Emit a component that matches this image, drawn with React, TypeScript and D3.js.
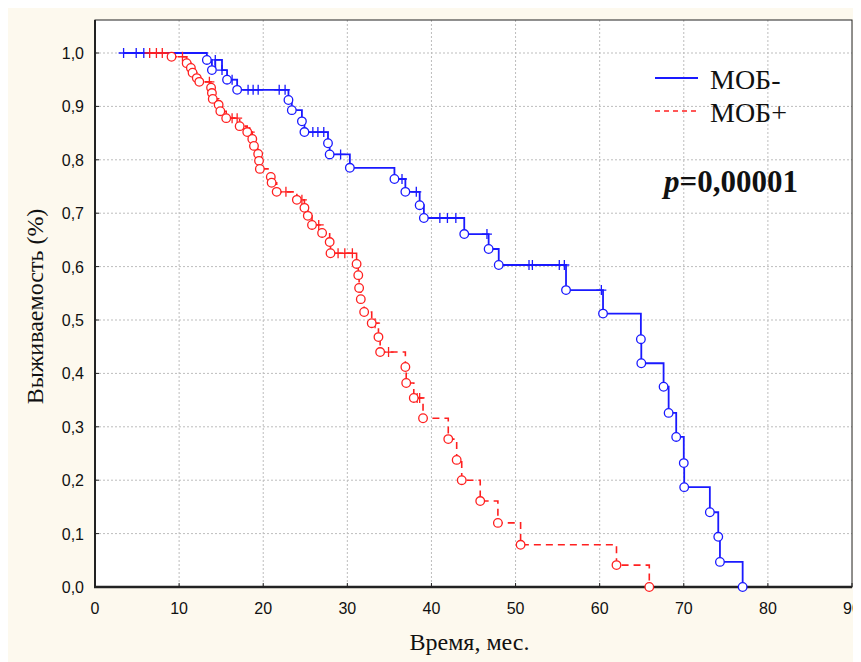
import React from "react";
import * as d3 from "d3";

// ---------- data ----------
const xTicks = [0, 10, 20, 30, 40, 50, 60, 70, 80, 90];
const xTickLabels = ["0", "10", "20", "30", "40", "50", "60", "70", "80", "90"];
const yTicks = [0, 0.1, 0.2, 0.3, 0.4, 0.5, 0.6, 0.7, 0.8, 0.9, 1.0];
const yTickLabels = ["0,0", "0,1", "0,2", "0,3", "0,4", "0,5", "0,6", "0,7", "0,8", "0,9", "1,0"];

const seriesNames = ["МОБ-", "МОБ+"];

// МОБ- (blue): complete observations (events)
const blueEventTimes = [13.3, 13.9, 15.7, 16.9, 23.0, 23.4, 24.6, 24.9, 27.7, 27.9, 30.3, 35.6, 36.9, 38.6, 39.1, 43.9, 46.8, 48.0, 56.0, 60.4, 64.9, 64.95, 67.6, 68.2, 69.1, 70.0, 70.05, 73.1, 74.1, 74.3, 77.0];
const blueEventSurv = [0.987, 0.968, 0.95, 0.931, 0.912, 0.893, 0.872, 0.852, 0.831, 0.81, 0.785, 0.764, 0.74, 0.715, 0.691, 0.661, 0.633, 0.603, 0.556, 0.512, 0.464, 0.419, 0.375, 0.326, 0.281, 0.232, 0.187, 0.14, 0.094, 0.047, 0.0];
// МОБ- censored observations
const blueCensorTimes = [3.4, 4.9, 5.8, 14.3, 15.1, 16.3, 18.2, 18.8, 19.4, 21.9, 22.6, 25.9, 26.5, 27.2, 29.2, 36.5, 38.2, 41.0, 41.9, 42.9, 46.6, 51.6, 52.0, 55.2, 55.8, 60.2];
const blueCensorSurv = [1.0, 1.0, 1.0, 0.987, 0.968, 0.95, 0.931, 0.931, 0.931, 0.931, 0.931, 0.852, 0.852, 0.852, 0.81, 0.764, 0.74, 0.691, 0.691, 0.691, 0.661, 0.603, 0.603, 0.603, 0.603, 0.556];

// МОБ+ (red): events
const redEventTimes = [9.1, 10.9, 11.4, 11.6, 12.1, 12.4, 13.8, 13.9, 14.0, 14.7, 14.9, 15.6, 17.2, 18.1, 18.7, 18.9, 19.4, 19.5, 19.6, 20.9, 21.0, 21.6, 24.0, 24.9, 25.3, 25.8, 27.0, 27.9, 28.0, 31.1, 31.3, 31.4, 31.6, 32.0, 32.9, 33.7, 33.9, 36.9, 37.0, 37.9, 39.0, 42.0, 43.0, 43.6, 45.8, 47.9, 50.6, 62.0, 65.9];
const redEventSurv = [0.993, 0.981, 0.972, 0.963, 0.953, 0.946, 0.935, 0.925, 0.914, 0.903, 0.891, 0.878, 0.863, 0.852, 0.839, 0.826, 0.811, 0.798, 0.783, 0.768, 0.757, 0.74, 0.725, 0.71, 0.695, 0.678, 0.663, 0.646, 0.625, 0.605, 0.584, 0.56, 0.539, 0.515, 0.494, 0.468, 0.44, 0.412, 0.382, 0.354, 0.316, 0.277, 0.238, 0.2, 0.161, 0.12, 0.079, 0.041, 0.0];
// МОБ+ censored
const redCensorTimes = [6.5, 7.3, 8.0, 10.4, 13.6, 16.3, 16.9, 18.4, 22.7, 24.6, 26.6, 28.9, 29.7, 30.6, 33.3, 34.9, 38.3, 38.6];
const redCensorSurv = [1.0, 1.0, 1.0, 0.993, 0.946, 0.878, 0.878, 0.852, 0.74, 0.725, 0.678, 0.625, 0.625, 0.625, 0.494, 0.44, 0.354, 0.354];

const pText = "=0,00001";

// ---------- layout ----------
const W = 853;
const H = 654;
const L = 87, T = 12, R = 844, B = 579;
const serif = "'Times New Roman', Times, 'Liberation Serif', 'DejaVu Serif', serif";

type Obs = { t: number; s: number };

function buildSeries(et: number[], es: number[], ct: number[], cs: number[]) {
  const ev: Obs[] = et.map((t, i) => ({ t, s: es[i] }));
  const ce: Obs[] = ct.map((t, i) => ({ t, s: cs[i] }));
  const all = [...ev, ...ce].sort((a, b) => a.t - b.t || b.s - a.s);
  return { ev, ce, all };
}

export default function App() {
  const x = d3.scaleLinear().domain([0, 90]).range([L, R]);
  const y = d3.scaleLinear().domain([0, 1]).range([B, 45]);

  const blue = buildSeries(blueEventTimes, blueEventSurv, blueCensorTimes, blueCensorSurv);
  const red = buildSeries(redEventTimes, redEventSurv, redCensorTimes, redCensorSurv);

  const line = d3
    .line<Obs>()
    .x((d) => x(d.t))
    .y((d) => y(d.s))
    .curve(d3.curveStepAfter);

  const blueColor = "#1a1aff";
  const redColor = "#ff2020";
  const cs = 5; // cross half-size
  const cr = 4.3; // circle radius

  const cross = (d: Obs, i: number, color: string) => (
    <path
      key={i}
      d={`M${x(d.t) - cs},${y(d.s)}H${x(d.t) + cs}M${x(d.t)},${y(d.s) - cs}V${y(d.s) + cs}`}
      stroke={color}
      strokeWidth={1.3}
      fill="none"
    />
  );
  const circ = (d: Obs, i: number, color: string) => (
    <circle key={i} cx={x(d.t)} cy={y(d.s)} r={cr} fill="white" stroke={color} strokeWidth={1.3} />
  );

  return (
    <svg width={W} height={H} style={{ display: "block", background: "#fdf9ee" }}>
      <rect x={0} y={0} width={W} height={H} fill="#fdf9ee" />
      <rect x={L} y={T} width={R - L} height={B - T} fill="white" />
      {/* grid */}
      {xTicks.slice(1, -1).map((t) => (
        <line key={"gx" + t} x1={x(t)} x2={x(t)} y1={T} y2={B} stroke="#bdbdbd" strokeWidth={1} strokeDasharray="2,2" />
      ))}
      {yTicks.slice(1).map((t) => (
        <line key={"gy" + t} x1={L} x2={R} y1={y(t)} y2={y(t)} stroke="#bdbdbd" strokeWidth={1} strokeDasharray="2,2" />
      ))}
      {/* frame */}
      <rect x={L} y={T} width={R - L} height={B - T} fill="none" stroke="#222" strokeWidth={1} />
      <line x1={L} x2={L} y1={T} y2={B + 1} stroke="#222" strokeWidth={2} />
      <line x1={L - 1} x2={R} y1={B} y2={B} stroke="#222" strokeWidth={2.5} />
      {/* ticks */}
      {xTicks.map((t) => (
        <line key={"tx" + t} x1={x(t)} x2={x(t)} y1={B} y2={B - 4} stroke="#222" strokeWidth={1} />
      ))}
      {yTicks.map((t) => (
        <line key={"ty" + t} x1={L} x2={L + 4} y1={y(t)} y2={y(t)} stroke="#222" strokeWidth={1} />
      ))}
      {/* tick labels */}
      <g fontFamily="'Liberation Sans', Arial, sans-serif" fontSize={16} fill="#111">
        {xTicks.map((t, i) => (
          <text key={"lx" + t} x={x(t)} y={B + 27} textAnchor="middle">
            {xTickLabels[i]}
          </text>
        ))}
        {yTicks.map((t, i) => (
          <text key={"ly" + t} x={L - 11} y={y(t) + 6} textAnchor="end">
            {yTickLabels[i]}
          </text>
        ))}
      </g>
      {/* axis titles */}
      <text x={(L + R) / 2 - 4} y={H - 12} textAnchor="middle" fontFamily={serif} fontSize={24} fill="#111">
        Время, мес.
      </text>
      <text
        transform={`translate(${35},${(T + B) / 2 + 3}) rotate(-90)`}
        textAnchor="middle"
        fontFamily={serif}
        fontSize={24}
        fill="#111"
      >
        Выживаемость (%)
      </text>

      {/* curves */}
      <path d={line(blue.all) || ""} fill="none" stroke={blueColor} strokeWidth={1.8} />
      <path d={line(red.all) || ""} fill="none" stroke={redColor} strokeWidth={1.6} strokeDasharray="7,5" />
      {blue.ce.map((d, i) => cross(d, i, blueColor))}
      {red.ce.map((d, i) => cross(d, i, redColor))}
      {blue.ev.map((d, i) => circ(d, i, blueColor))}
      {red.ev.map((d, i) => circ(d, i, redColor))}

      {/* legend */}
      <line x1={647} x2={690} y1={70} y2={70} stroke={blueColor} strokeWidth={1.8} />
      <line x1={647} x2={690} y1={103} y2={103} stroke={redColor} strokeWidth={1.6} strokeDasharray="5,4" />
      <g fontFamily={serif} fontSize={28} fill="#111">
        <text x={702} y={81}>{seriesNames[0]}</text>
        <text x={702} y={114}>{seriesNames[1]}</text>
      </g>
      <text x={656} y={184} fontFamily={serif} fontSize={31} fontWeight="bold" fill="#111">
        <tspan fontStyle="italic">p</tspan>
        {pText}
      </text>
    </svg>
  );
}
